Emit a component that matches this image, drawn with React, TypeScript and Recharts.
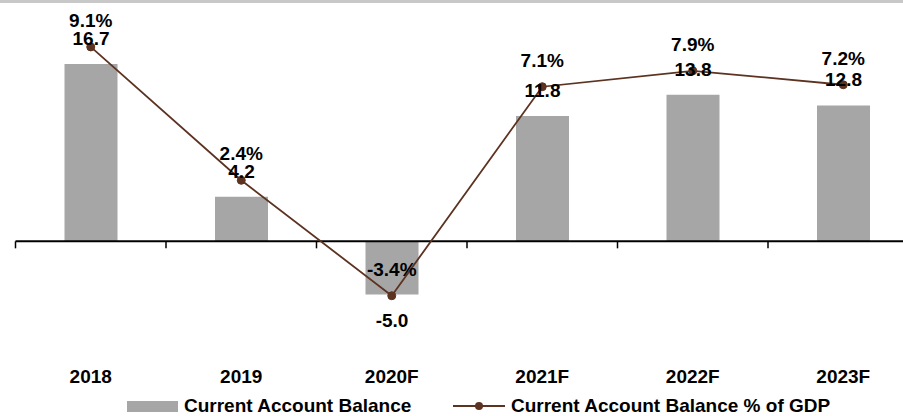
import {
  Bar,
  ComposedChart,
  LabelList,
  Line,
  ReferenceLine,
  XAxis,
  YAxis,
} from "recharts";

const years = ["2018", "2019", "2020F", "2021F", "2022F", "2023F"];
const balance = [16.7, 4.2, -5.0, 11.8, 13.8, 12.8];
const balancePct = [9.1, 2.4, -3.4, 7.1, 7.9, 7.2];

const BAR_NAME = "Current Account Balance";
const LINE_NAME = "Current Account Balance % of GDP";

const BAR_COLOR = "#a6a6a6";
const LINE_COLOR = "#5c3220";
const FONT = "'Liberation Sans', Arial, sans-serif";

const data = years.map((year, i) => ({
  year,
  balance: balance[i],
  pct: balancePct[i],
}));

function BarValueLabel(props: any) {
  const { x, y, width, height, value } = props;
  const top = Math.min(y, y + height);
  const bottom = Math.max(y, y + height);
  const cx = x + width / 2;
  const ty = value < 0 ? bottom + 33 : top - 19;
  return (
    <text x={cx} y={ty} textAnchor="middle" fontFamily={FONT} fontWeight="bold" fontSize={19} fill="#000">
      {Number(value).toFixed(1)}
    </text>
  );
}

function PctLabel(props: any) {
  const { x, y, value } = props;
  return (
    <text x={x} y={y - 20} textAnchor="middle" fontFamily={FONT} fontWeight="bold" fontSize={19} fill="#000">
      {Number(value).toFixed(1)}%
    </text>
  );
}

// zero line with small category tick marks hanging below it
function ZeroAxis(props: any) {
  const { x1, y1, x2 } = props;
  const n = years.length;
  const ticks = [];
  for (let i = 0; i <= n; i++) {
    const tx = x1 + ((x2 - x1) * i) / n;
    ticks.push(<line key={i} x1={tx} y1={y1} x2={tx} y2={y1 + 7} stroke="#000" strokeWidth={1.5} />);
  }
  return (
    <g>
      <line x1={x1} y1={y1} x2={x2} y2={y1} stroke="#000" strokeWidth={2} />
      {ticks}
    </g>
  );
}

const legendText = {
  position: "absolute" as const,
  top: 398,
  height: 16,
  display: "flex",
  alignItems: "center",
  fontFamily: FONT,
  fontWeight: "bold",
  fontSize: 19,
  color: "#000",
  whiteSpace: "nowrap" as const,
  lineHeight: "16px",
};

export default function App() {
  return (
    <div
      style={{
        position: "absolute",
        left: 0,
        top: 0,
        width: 903,
        height: 416,
        overflow: "hidden",
        background: "#fff",
      }}
    >
      <div style={{ position: "absolute", left: 0, top: 0, width: 903, height: 3, background: "#c8c8c8" }} />
      <ComposedChart
        width={930}
        height={416}
        data={data}
        margin={{ top: 29, right: 11.5, left: 15.5, bottom: 38.5 }}
      >
        <XAxis
          dataKey="year"
          height={30}
          interval={0}
          axisLine={false}
          tickLine={false}
          tickMargin={16}
          tick={{ fontFamily: FONT, fontWeight: "bold", fontSize: 19, fill: "#000" }}
        />
        <YAxis yAxisId="bal" domain={[-10, 20]} hide />
        <YAxis yAxisId="pct" orientation="right" domain={[-6, 10]} hide />
        <Bar
          yAxisId="bal"
          dataKey="balance"
          name={BAR_NAME}
          fill={BAR_COLOR}
          barSize={53}
          isAnimationActive={false}
        >
          <LabelList dataKey="balance" content={BarValueLabel} />
        </Bar>
        <ReferenceLine yAxisId="bal" y={0} shape={ZeroAxis} />
        <Line
          yAxisId="pct"
          dataKey="pct"
          name={LINE_NAME}
          type="linear"
          stroke={LINE_COLOR}
          strokeWidth={1.8}
          dot={{ r: 4, fill: LINE_COLOR, stroke: LINE_COLOR, strokeWidth: 1 }}
          activeDot={false}
          isAnimationActive={false}
        >
          <LabelList dataKey="pct" content={PctLabel} />
        </Line>
      </ComposedChart>

      <div style={{ ...legendText, left: 127 }}>
        <span style={{ display: "inline-block", width: 51, height: 11, background: BAR_COLOR, marginRight: 6 }} />
        <span>{BAR_NAME}</span>
      </div>
      <div style={{ ...legendText, left: 453 }}>
        <svg width={52} height={12} style={{ marginRight: 6 }}>
          <line x1={0} y1={6} x2={52} y2={6} stroke={LINE_COLOR} strokeWidth={2} />
          <circle cx={26} cy={6} r={4} fill={LINE_COLOR} />
        </svg>
        <span>{LINE_NAME}</span>
      </div>
    </div>
  );
}
